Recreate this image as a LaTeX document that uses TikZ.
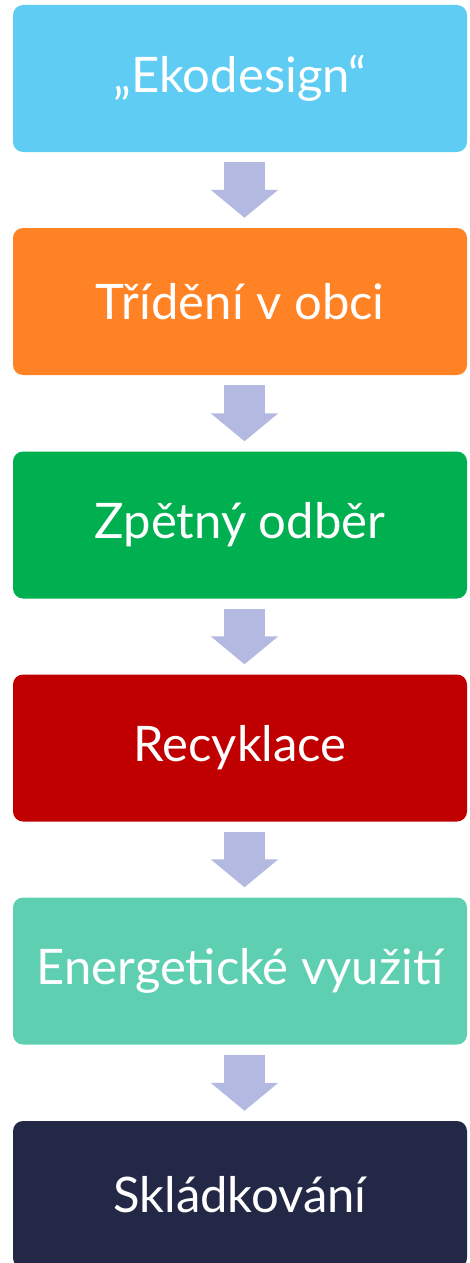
\documentclass[tikz,border=0pt]{standalone}
\usepackage{fontspec}
\setmainfont{Lato}
\usetikzlibrary{arrows.meta}
\definecolor{ekoblue}{HTML}{5FCCF3}
\definecolor{trorange}{HTML}{FF8225}
\definecolor{zpgreen}{HTML}{00B050}
\definecolor{recred}{HTML}{C00000}
\definecolor{enteal}{HTML}{5ECFB1}
\definecolor{sknavy}{HTML}{232846}
\definecolor{arrlav}{HTML}{B3B9E0}

\begin{document}
\begin{tikzpicture}[x=1pt,y=-1pt,
    stage/.style={rectangle,rounded corners=10pt,minimum width=454pt,minimum height=147pt,
        inner sep=0pt,text=white,font=\fontsize{49}{55}\selectfont},
    flow/.style={arrlav,line width=41pt,shorten <=10pt,shorten >=10pt,
        -{Triangle[width=66pt,length=28pt]},transform canvas={xshift=4.5pt}}]
    \useasboundingbox (0,0) rectangle (469,1263);

    \node[stage,fill=ekoblue]  (eko) at (240,78.5)  {„Ekodesign“};
    \node[stage,fill=trorange] (tri) at (240,301.5) {Třídění v obci};
    \node[stage,fill=zpgreen]  (zpe) at (240,525)   {Zpětný odběr};
    \node[stage,fill=recred]   (rec) at (240,748)   {Recyklace};
    \node[stage,fill=enteal]   (ene) at (240,971)   {Energetické využití};
    \node[stage,fill=sknavy]   (skl) at (240,1194.5){Skládkování};

    \draw[flow] (eko.south) -- (tri.north);
    \draw[flow] (tri.south) -- (zpe.north);
    \draw[flow] (zpe.south) -- (rec.north);
    \draw[flow] (rec.south) -- (ene.north);
    \draw[flow] (ene.south) -- (skl.north);
\end{tikzpicture}
\end{document}
